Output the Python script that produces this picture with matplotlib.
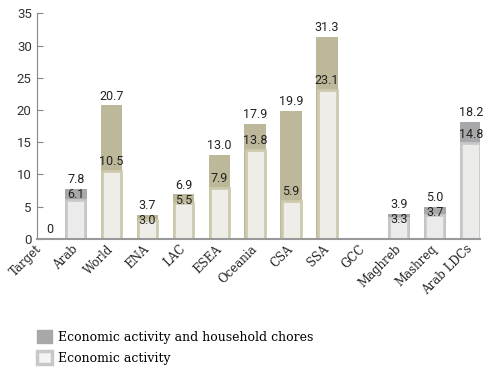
import numpy as np
import matplotlib.pyplot as plt
import matplotlib.transforms as mtransforms
from matplotlib.patches import Patch

categories = ["Target", "Arab", "World", "ENA", "LAC", "ESEA", "Oceania",
              "CSA", "SSA", "GCC", "Maghreb", "Mashreq", "Arab LDCs"]
# hours per week, nan = no data
total = [0, 7.8, 20.7, 3.7, 6.9, 13.0, 17.9, 19.9, 31.3, np.nan, 3.9, 5.0, 18.2]
economic = [np.nan, 6.1, 10.5, 3.0, 5.5, 7.9, 13.8, 5.9, 23.1, np.nan, 3.3, 3.7, 14.8]
arab_group = ["Target", "Arab", "GCC", "Maghreb", "Mashreq", "Arab LDCs"]

GREY_DARK, GREY_EDGE = "#a8a8aa", "#c8c8ca"
OLIVE_DARK, OLIVE_EDGE = "#bcb899", "#cdc9ae"
FILL_GREY, FILL_OLIVE = "#ebebea", "#eeede7"

fig = plt.figure(figsize=(4.93, 3.72), dpi=100)
ax = fig.add_axes([0.0757, 0.358, 0.898, 0.606])
ax.set_xlim(-0.07, 12.26)
ax.set_ylim(0, 35)

x = np.arange(len(categories))
w = 0.6
edge_w = 2.7 / 35.95  # border width in data units
px_per_unit = 0.606 * 372 / 35
min_gap = 15  # px between centres of stacked value labels

for i, cat in enumerate(categories):
    arab = cat in arab_group
    dark = GREY_DARK if arab else OLIVE_DARK
    edge = GREY_EDGE if arab else OLIVE_EDGE
    fill = FILL_GREY if arab else FILL_OLIVE
    t, e = total[i], economic[i]
    if not np.isnan(t):
        if t > 0:
            ax.bar(x[i], t, width=w, color=dark, zorder=2)
        dx = 7 if t == 0 else 0
        ax.annotate(f"{t:.1f}" if t > 0 else "0", (x[i], t), xytext=(dx, 2),
                    textcoords="offset points", ha="center", va="bottom",
                    fontsize=9, family="Roboto", color="#222222", zorder=5)
    if not np.isnan(e):
        ax.bar(x[i], e, width=w - edge_w, color=fill, edgecolor=edge,
               linewidth=1.95, zorder=3)
        # push the inner label down when it would run into the outer one
        gap = (t - e) * px_per_unit
        dy = 2 - max(0, min_gap - gap) * 0.72
        ax.annotate(f"{e:.1f}", (x[i], e), xytext=(0, dy),
                    textcoords="offset points", ha="center", va="bottom",
                    fontsize=9, family="Roboto", color="#222222", zorder=5)

ax.set_yticks(range(0, 36, 5))
ax.set_xticks(x)
ax.set_xticklabels(categories, rotation=45, ha="right", va="center",
                   rotation_mode="anchor", family="DejaVu Serif", fontsize=8.5,
                   color="#222222")
shift = mtransforms.ScaledTranslation(5.5 / 72, -9 / 72, fig.dpi_scale_trans)
for lab in ax.get_xticklabels():
    lab.set_transform(lab.get_transform() + shift)
for lab in ax.get_yticklabels():
    lab.set_family("Roboto")
    lab.set_fontsize(9.5)
    lab.set_color("#333333")
ax.tick_params(axis="y", direction="in", length=4, color="#888888", pad=4)
ax.tick_params(axis="x", length=0, pad=6)
for s in ("top", "right"):
    ax.spines[s].set_visible(False)
ax.spines["left"].set_color("#888888")
ax.spines["bottom"].set_color("#999999")
ax.spines["bottom"].set_linewidth(1.5)
ax.spines["bottom"].set_zorder(4)

handles = [Patch(facecolor=GREY_DARK, edgecolor=GREY_DARK),
           Patch(facecolor="#f4f4f4", edgecolor=GREY_EDGE, linewidth=2.5)]
fig.legend(handles, ["Economic activity and household chores", "Economic activity"],
           loc="upper left", bbox_to_anchor=(37 / 493, 1 - 330 / 372),
           frameon=False, borderpad=0, borderaxespad=0, handlelength=1.2,
           handleheight=1.2, handletextpad=0.5, labelspacing=0.6,
           prop={"family": "DejaVu Serif", "size": 9})

fig.savefig("out.png", dpi=100)
